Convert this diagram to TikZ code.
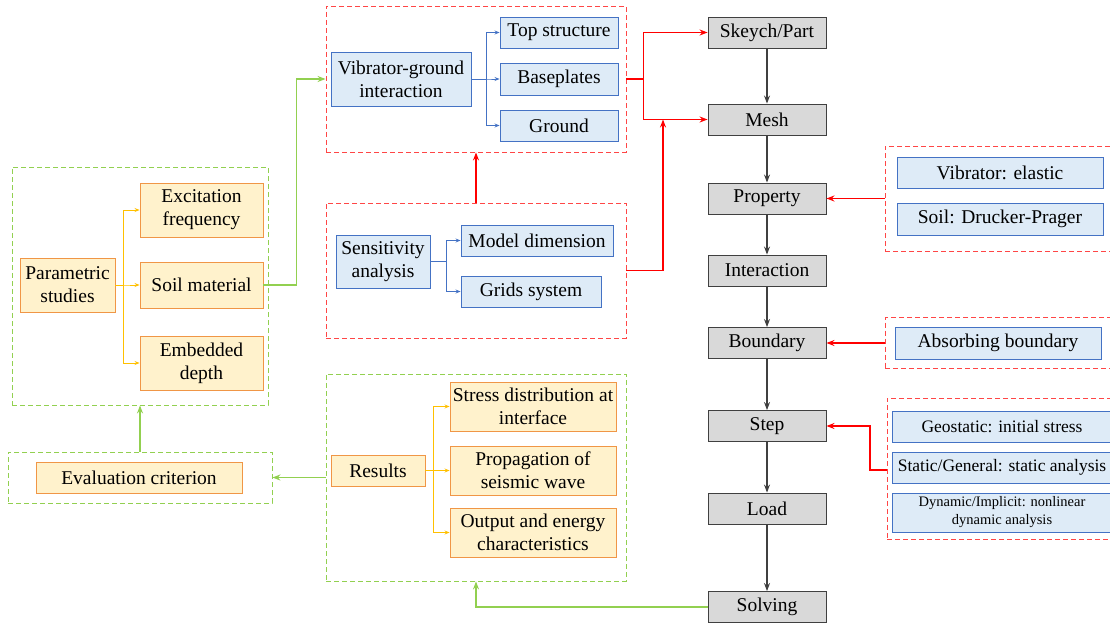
\documentclass[tikz,border=0pt]{standalone}
\usepackage{fontspec}
\setmainfont{Liberation Serif}
\usetikzlibrary{arrows.meta}

\definecolor{fillgray}{RGB}{217,217,217}
\definecolor{edgegray}{RGB}{64,64,64}
\definecolor{fillblue}{RGB}{222,235,247}
\definecolor{edgeblue}{RGB}{68,114,196}
\definecolor{fillorange}{RGB}{255,242,204}
\definecolor{edgeorange}{RGB}{240,150,70}
\definecolor{lineorange}{RGB}{255,192,0}
\definecolor{linegreen}{RGB}{146,208,80}
\definecolor{linered}{RGB}{255,0,0}
\definecolor{dashred}{RGB}{255,70,70}

\tikzset{
  boxbase/.style={draw, line width=0.9pt, align=center, inner sep=0pt,
    font=\fontsize{19.5}{23}\selectfont},
  graybox/.style={boxbase, draw=edgegray, fill=fillgray, minimum width=118, minimum height=31},
  bluebox/.style={boxbase, draw=edgeblue, fill=fillblue},
  orangebox/.style={boxbase, draw=edgeorange, fill=fillorange},
  groupbox/.style={draw, dashed, dash pattern=on 5pt off 3pt, line width=0.9pt, inner sep=0pt},
  redgroup/.style={groupbox, draw=dashred},
  greengroup/.style={groupbox, draw=linegreen},
  grayarr/.style={-{Stealth[length=8pt,width=6pt]}, draw=edgegray, line width=1.1pt},
  redarr/.style={-{Stealth[length=8pt,width=6pt]}, draw=linered, line width=1.1pt},
  greenarr/.style={-{Stealth[length=8pt,width=6pt]}, draw=linegreen, line width=1.1pt},
  bluearr/.style={-{Stealth[length=5pt,width=4pt]}, draw=edgeblue, line width=0.9pt},
  orangearr/.style={-{Stealth[length=5pt,width=4pt]}, draw=lineorange, line width=0.9pt}
}

\begin{document}
\begin{tikzpicture}[x=1pt,y=-1pt]
  \useasboundingbox (0,0) rectangle (1110,623);

  \node[redgroup, minimum width=300, minimum height=146] (grpvg)   at (476,79)    {};
  \node[redgroup, minimum width=300, minimum height=135] (grpsens) at (476,270.5) {};
  \node[redgroup, minimum width=240, minimum height=105] (grpprop) at (1005,198.5){};
  \node[redgroup, minimum width=240, minimum height=51]  (grpbnd)  at (1005,343)  {};
  \node[redgroup, minimum width=238, minimum height=141] (grpstep) at (1006,468.5){};
  \node[greengroup, minimum width=256, minimum height=238] (grppar)  at (140,286)   {};
  \node[greengroup, minimum width=264, minimum height=51]  (grpeval) at (140,477.5) {};
  \node[greengroup, minimum width=300, minimum height=207] (grpres)  at (476,477.5) {};

  \node[graybox] (skp)   at (767,32.5)  {Skeych/Part};
  \node[graybox] (mesh)  at (767,119.5) {Mesh};
  \node[graybox] (prop)  at (767,198.5) {Property};
  \node[graybox] (inter) at (767,270.5) {Interaction};
  \node[graybox] (bound) at (767,343)   {Boundary};
  \node[graybox] (step)  at (767,426)   {Step};
  \node[graybox] (load)  at (767,508.5) {Load};
  \node[graybox] (solv)  at (767,607)   {Solving};

  \node[bluebox, minimum width=206, minimum height=31] (elas) at (1000,172.5) {Vibrator: elastic};
  \node[bluebox, minimum width=206, minimum height=32] (dp)   at (1000,219)   {Soil: Drucker-Prager};
  \node[bluebox, minimum width=206, minimum height=32] (absb) at (998,343)    {Absorbing boundary};
  \node[bluebox, minimum width=220, minimum height=31, font=\fontsize{17.5}{21}\selectfont] (geo) at (1002,426.5) {Geostatic: initial stress};
  \node[bluebox, minimum width=220, minimum height=31, font=\fontsize{17.5}{21}\selectfont] (stat) at (1002,467.5) {Static/General: static analysis};
  \node[bluebox, minimum width=220, minimum height=39, font=\fontsize{14.5}{18}\selectfont] (dyn) at (1002,512.5) {Dynamic/Implicit: nonlinear\\dynamic analysis};

  \node[bluebox, minimum width=140, minimum height=54] (vg)   at (401,79)    {Vibrator-ground\\interaction};
  \node[bluebox, minimum width=118, minimum height=31] (top)  at (559,32.5)  {Top structure};
  \node[bluebox, minimum width=118, minimum height=32] (base) at (559,79)    {Baseplates};
  \node[bluebox, minimum width=118, minimum height=31] (grd)  at (559,125.5) {Ground};

  \node[bluebox, minimum width=94, minimum height=53]  (sens)  at (383,261.5) {Sensitivity\\analysis};
  \node[bluebox, minimum width=152, minimum height=31] (mdim)  at (537,240.5) {Model dimension};
  \node[bluebox, minimum width=140, minimum height=31] (grids) at (531,291.5) {Grids system};

  \node[orangebox, minimum width=95, minimum height=54]  (par)   at (67.5,285)  {Parametric\\studies};
  \node[orangebox, minimum width=123, minimum height=54] (excit) at (201.5,210) {Excitation\\frequency};
  \node[orangebox, minimum width=123, minimum height=46] (soilm) at (201.5,285) {Soil material};
  \node[orangebox, minimum width=123, minimum height=54] (embed) at (201.5,363) {Embedded\\depth};
  \node[orangebox, minimum width=206, minimum height=31] (eval)  at (139,477.5) {Evaluation criterion};

  \node[orangebox, minimum width=94, minimum height=31]  (res)    at (378,470.5) {Results};
  \node[orangebox, minimum width=166, minimum height=49] (stress) at (533,406.5) {Stress distribution at\\interface};
  \node[orangebox, minimum width=166, minimum height=49] (wave)   at (533,470.5) {Propagation of\\seismic wave};
  \node[orangebox, minimum width=166, minimum height=49] (energy) at (533,532.5) {Output and energy\\characteristics};

  \coordinate (meshjoin) at (663,119.5);
  \coordinate (stepout)  at (887,470);

  \path[grayarr]
    (skp)   edge (mesh)
    (mesh)  edge (prop)
    (prop)  edge (inter)
    (inter) edge (bound)
    (bound) edge (step)
    (step)  edge (load)
    (load)  edge (solv);

  \draw[redarr] (grpvg.east) -- ++(17,0) |- (skp.west);
  \draw[redarr] (grpvg.east) -- ++(17,0) |- (mesh.west);
  \draw[redarr] (grpsens.east) -| (meshjoin);
  \draw[redarr] (grpsens.north) -- (grpvg.south);
  \draw[redarr] (grpprop.west) -- (prop.east);
  \draw[redarr] (grpbnd.west) -- (bound.east);
  \draw[redarr] (stepout) -- ++(-17,0) |- (step.east);

  \foreach \t in {top,base,grd}
    \draw[bluearr] (vg.east) -- ++(15,0) |- (\t.west);
  \foreach \t in {mdim,grids}
    \draw[bluearr] (sens.east) -- ++(16,0) |- (\t.west);
  \foreach \t in {excit,soilm,embed}
    \draw[orangearr] (par.east) -- ++(8,0) |- (\t.west);
  \foreach \t in {stress,wave,energy}
    \draw[orangearr] (res.east) -- ++(8,0) |- (\t.west);

  \draw[greenarr] (soilm.east) -- ++(33,0) |- (grpvg.west);
  \draw[greenarr] (solv.west) -| (grpres.south);
  \draw[greenarr] (grpres.west) -- (grpeval.east);
  \draw[greenarr] (grpeval.north) -- (grppar.south);
\end{tikzpicture}
\end{document}
